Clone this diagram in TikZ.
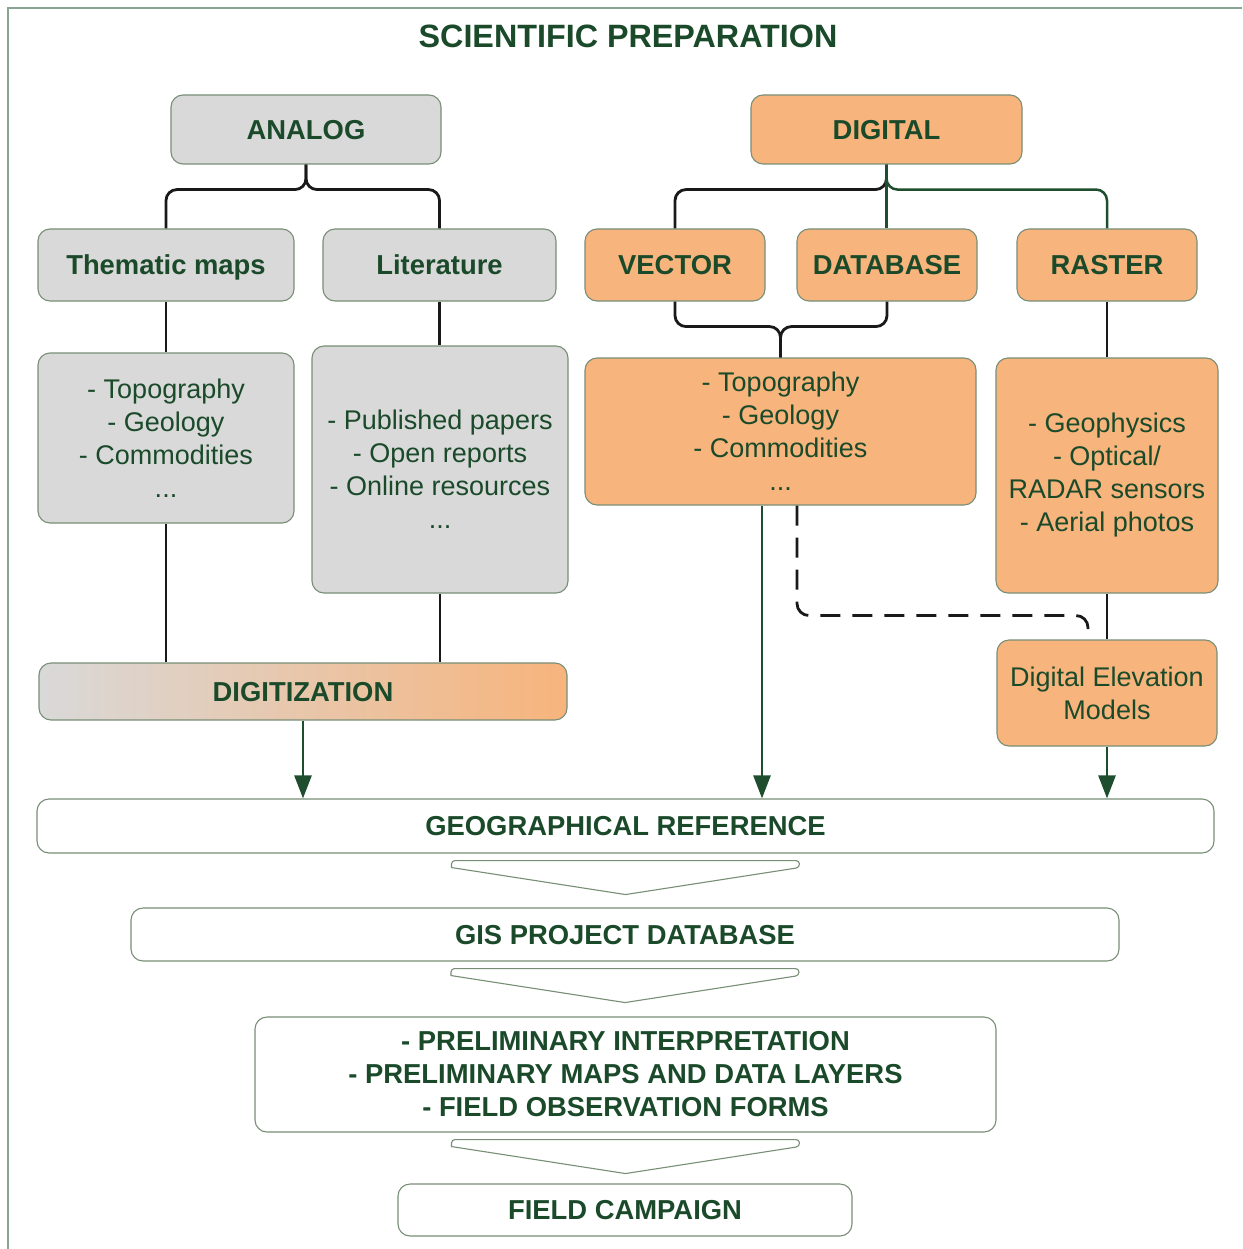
\documentclass[tikz,border=0pt]{standalone}
\usepackage{fontspec}
\setmainfont{Liberation Sans}
\usetikzlibrary{arrows.meta,calc}

\definecolor{txtgreen}{RGB}{26,74,42}
\definecolor{linegreen}{RGB}{30,78,46}
\definecolor{boxedge}{RGB}{120,142,118}
\definecolor{framec}{RGB}{138,165,145}
\definecolor{greyfill}{RGB}{217,217,217}
\definecolor{orangefill}{RGB}{247,180,124}

\tikzset{
  basebox/.style={draw=boxedge, line width=1.1pt, rounded corners=12pt,
    inner sep=0pt, align=center, text=txtgreen},
  head/.style={basebox, font=\fontsize{27.4}{33}\selectfont\bfseries},
  oneline/.style={text height=19.6pt, text depth=0pt},
  list/.style={basebox, font=\fontsize{27}{33}\selectfont},
  grey/.style={fill=greyfill},
  orange/.style={fill=orangefill},
  white/.style={fill=white},
  blk/.style={draw=black!90, line width=2.8pt},
  grn/.style={draw=linegreen, line width=2.5pt},
  grnarrow/.style={grn, -{Triangle[length=23pt,width=17pt]}},
  dashlink/.style={draw=black!90, line width=2.8pt, dash pattern=on 20pt off 12pt},
  chev/.style={draw=boxedge, line width=1.1pt, fill=white}
}

% chevron between two stacked boxes: top edge just under #1, tip 34 below it
\newcommand{\chevron}[1]{%
  \path ($(#1.south)+(0,7)$) coordinate (ct);
  \draw[chev] ($(ct)+(0,34)$) -- ($(ct)+(-174,7)$) [rounded corners=3.5pt]
    -- ($(ct)+(-174,0)$) -- ($(ct)+(174,0)$) -- ($(ct)+(174,7)$)
    [sharp corners] -- ($(ct)+(0,34)$) -- cycle;
}

\begin{document}
\begin{tikzpicture}[x=1pt,y=-1pt]
\useasboundingbox (0,0) rectangle (1242,1249);

% outer frame (open to the right and bottom)
\draw[framec, line width=1.5pt] (8,1249) -- (8,8) -- (1242,8);

% title
\node[text=txtgreen, font=\fontsize{32.3}{38}\selectfont\bfseries] (title) at (628,36) {SCIENTIFIC PREPARATION};

% top level
\node[head, oneline, grey, minimum width=270pt, minimum height=69pt] (analog) at (306,129.5) {ANALOG};
\node[head, oneline, orange, minimum width=271pt, minimum height=69pt] (digital) at (886.5,129.5) {DIGITAL};

% second level
\node[head, oneline, grey, minimum width=256pt, minimum height=72pt] (thematic) at (166,265) {Thematic maps};
\node[head, oneline, grey, minimum width=233pt, minimum height=72pt] (literature) at (439.5,265) {Literature};
\node[head, oneline, orange, minimum width=180pt, minimum height=72pt] (vector) at (675,265) {VECTOR};
\node[head, oneline, orange, minimum width=180pt, minimum height=72pt] (database) at (887,265) {DATABASE};
\node[head, oneline, orange, minimum width=180pt, minimum height=72pt] (raster) at (1107,265) {RASTER};

% content lists
\node[list, grey, minimum width=256pt, minimum height=170pt] (tlist) at (166,438)
  {- Topography\\- Geology\\- Commodities\\...};
\node[list, grey, minimum width=256pt, minimum height=247pt] (llist) at (440,469.5)
  {- Published papers\\- Open reports\\- Online resources\\...};
\node[list, orange, minimum width=391pt, minimum height=147pt] (vlist) at (780.5,431.5)
  {- Topography\\- Geology\\- Commodities\\...};
\node[list, orange, minimum width=222pt, minimum height=235pt] (rlist) at (1107,475.5)
  {- Geophysics\\- Optical/\\RADAR sensors\\- Aerial photos};
\node[list, orange, minimum width=220pt, minimum height=106pt] (dem) at (1107,693)
  {Digital Elevation\\Models};

% digitization
\node[head, oneline, left color=greyfill, right color=orangefill, minimum width=528pt, minimum height=57pt] (digitization) at (303,691.5) {DIGITIZATION};

% processing chain
\node[head, oneline, white, minimum width=1177pt, minimum height=54pt] (georef) at (625.5,826) {GEOGRAPHICAL REFERENCE};
\node[head, oneline, white, minimum width=988pt, minimum height=53pt] (gis) at (625,934.5) {GIS PROJECT DATABASE};
\node[head, white, minimum width=741pt, minimum height=115pt] (prelim) at (625.5,1074.5)
  {- PRELIMINARY INTERPRETATION\\- PRELIMINARY MAPS AND DATA LAYERS\\- FIELD OBSERVATION FORMS};
\node[head, oneline, white, minimum width=454pt, minimum height=52pt] (field) at (625,1210) {FIELD CAMPAIGN};

% analog branch
\draw[blk, rounded corners=11pt] (analog.south) -- ++(0,25) -| (thematic.north);
\draw[blk, rounded corners=11pt] (analog.south) -- ++(0,25) -| (literature.north);
\draw[blk] (thematic.south) -- (tlist.north);
\draw[blk] (literature.south) -- (literature.south |- llist.north);
\draw[blk] (tlist.south) -- (tlist.south |- digitization.north);
\draw[blk] (llist.south) -- (llist.south |- digitization.north);

% digital branch
\draw[blk, rounded corners=11pt] (digital.south) -- ++(0,25) -| (vector.north);
\draw[grn, rounded corners=11pt] (digital.south) -- ++(0,25) -| (raster.north);
\draw[grn] (digital.south) -- (digital.south |- database.north);
\draw[blk, rounded corners=11pt] (vector.south) -- ++(0,25) -| (vlist.north);
\draw[blk, rounded corners=11pt] (database.south) -- ++(0,25) -| (vlist.north);
\draw[blk] (raster.south) -- (rlist.north);
\draw[blk] (rlist.south) -- (dem.north);
\draw[dashlink, rounded corners=12pt] ([xshift=16.5pt]vlist.south) -- ++(0,110) -| ([xshift=-19pt]dem.north);

% arrows into the geographical reference
\draw[grnarrow] (digitization.south) -- (digitization.south |- georef.north);
\draw[grnarrow] ([xshift=-18.5pt]vlist.south) -- ([xshift=-18.5pt]vlist.south |- georef.north);
\draw[grnarrow] (dem.south) -- (dem.south |- georef.north);

% chevrons down the chain
\chevron{georef}
\chevron{gis}
\chevron{prelim}
\end{tikzpicture}
\end{document}
